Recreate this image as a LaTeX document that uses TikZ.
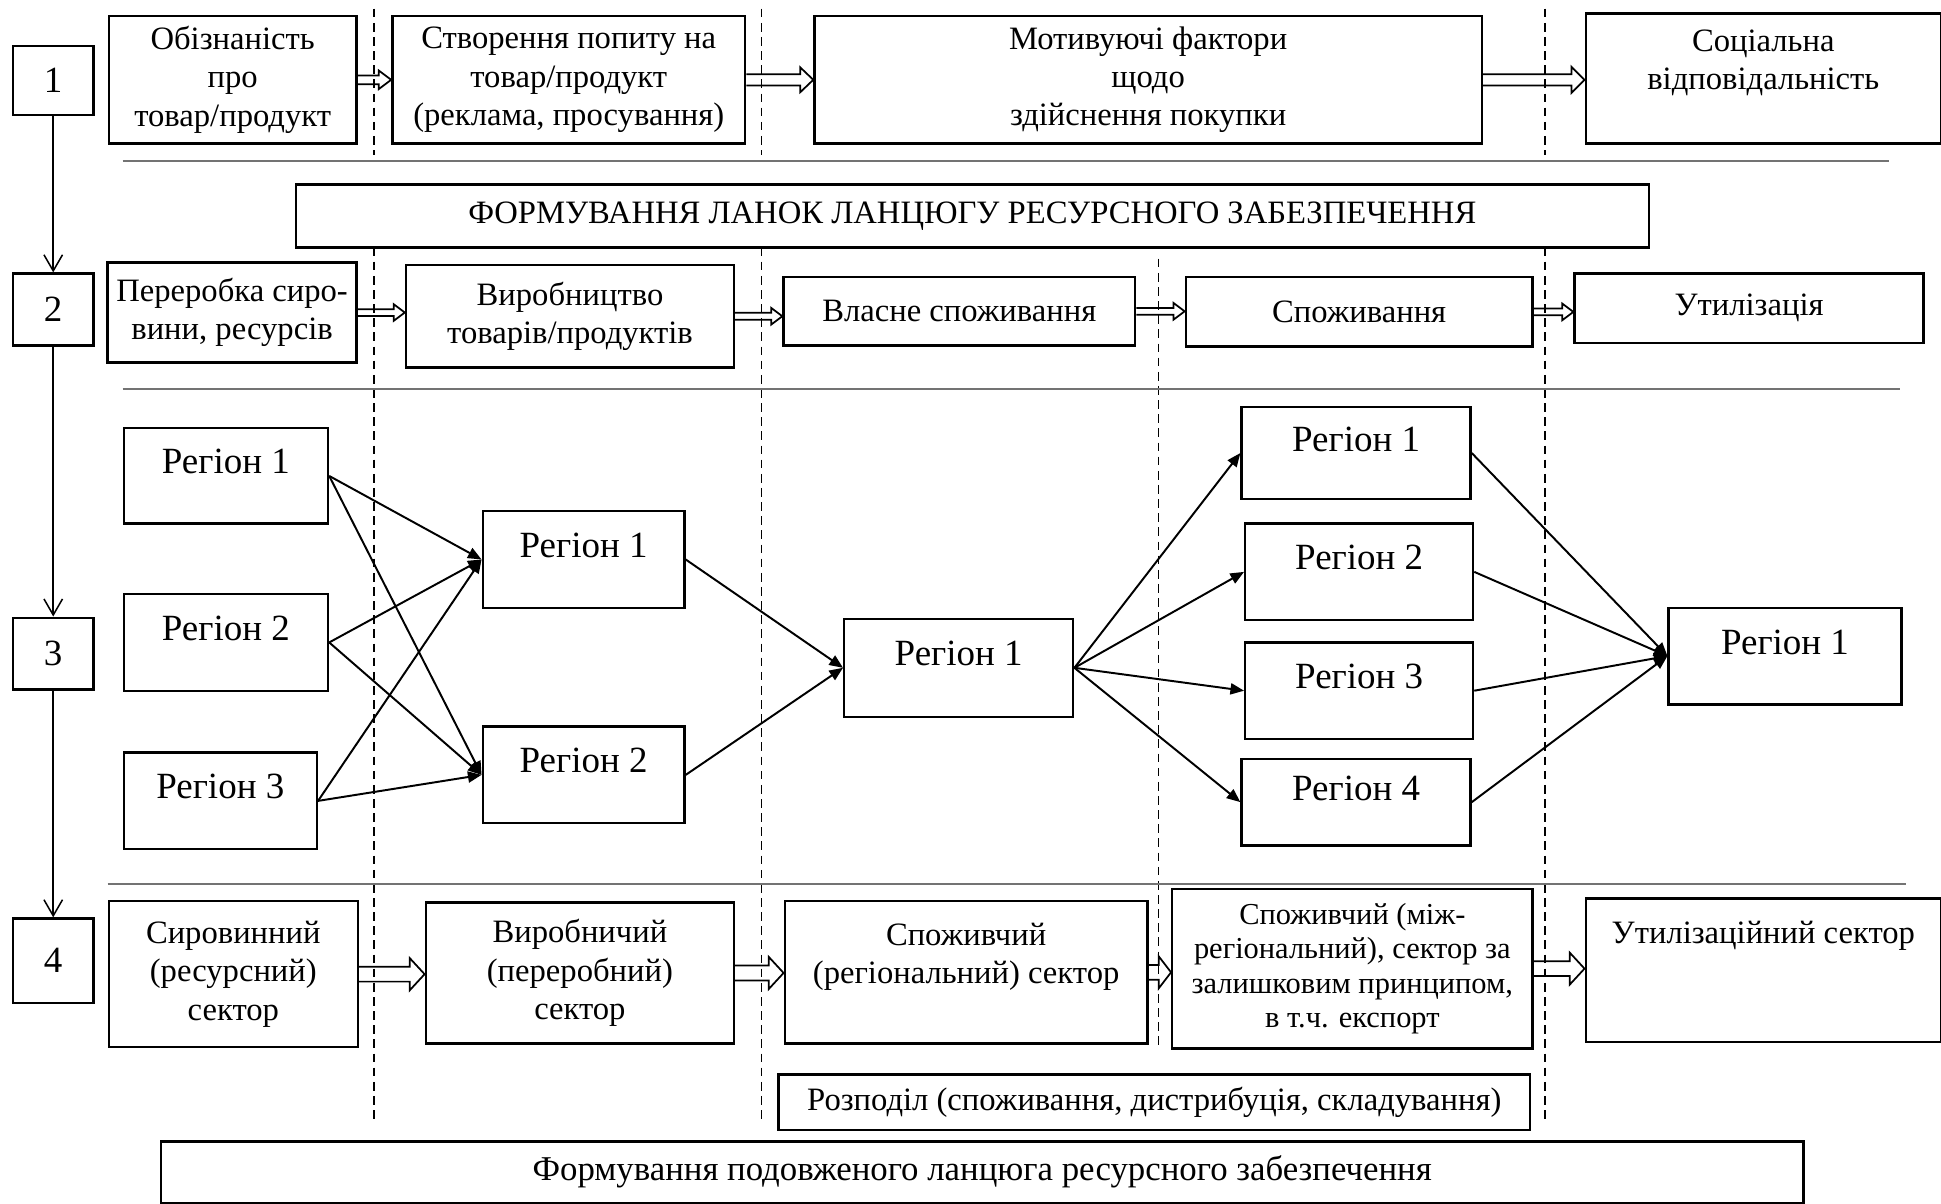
\documentclass[tikz,border=0pt]{standalone}
\usepackage{fontspec}
\setmainfont{Liberation Serif}
\usetikzlibrary{arrows.meta, calc}

% hollow block arrow between two boxes: from, to, shaft half, head half, head length
\newcommand{\fatarrow}[5]{%
  \draw[line width=0.8pt, line join=miter]
    let \p1=(#1.east), \p2=(#2.west) in
    (\x1,\y1+#3) -- (\x2-#5,\y1+#3) -- (\x2-#5,\y1+#4) -- (\x2,\y1)
    -- (\x2-#5,\y1-#4) -- (\x2-#5,\y1-#3) -- (\x1,\y1-#3);}

\begin{document}
\begin{tikzpicture}[x=0.2mm, y=-0.2mm, >={Triangle[length=2.2mm, width=1.8mm]},
  box/.style={draw, line width=1.1pt, align=center, inner sep=2pt, anchor=north west,
              font=\fontsize{15}{17.6}\selectfont},
  num/.style={draw, line width=1.1pt, minimum width=13mm, font=\fontsize{17}{20}\selectfont},
  region/.style={box, text depth=4.6mm, font=\fontsize{17}{20}\selectfont},
  sep/.style={line width=0.7pt, dash pattern=on 4pt off 2.5pt},
  rule/.style={line width=0.8pt, black!55},
  link/.style={->, line width=0.9pt},
  down/.style={-{Straight Barb[length=2.6mm, width=3mm]}, line width=0.7pt}]
  \useasboundingbox (0,0) rectangle (1568,972);

  % level numbers
  \node[num, minimum height=11.2mm] (n1) at (43,65) {1};
  \node[num, minimum height=11.6mm] (n2) at (43,250) {2};
  \node[num, minimum height=11.6mm] (n3) at (43,528) {3};
  \node[num, minimum height=13.6mm] (n4) at (43,776) {4};
  \draw[down] (n1.south) -- (n2.north);
  \draw[down] (n2.south) -- (n3.north);
  \draw[down] (n3.south) -- (n4.north);

  % separators
  \foreach \x in {302,615,1248} {
    \draw[sep] (\x,7) -- (\x,125);
    \draw[sep] (\x,200) -- (\x,906);
  }
  \draw[sep] (936,209) -- (936,844);
  \draw[rule] (99,130) -- (1526,130);
  \draw[rule] (99,314) -- (1535,314);
  \draw[rule] (87,714) -- (1540,714);

  % level 1
  \node[box, minimum width=40mm, minimum height=20.6mm] (a1) at (87,12) {Обізнаність\\про\\товар/продукт};
  \node[box, minimum width=57mm, minimum height=20.6mm] (a2) at (316,12) {Створення попиту на\\товар/продукт\\(реклама, просування)};
  \node[box, minimum width=107.8mm, minimum height=20.6mm] (a3) at (657,12) {Мотивуючі фактори\\щодо\\здійснення покупки};
  \node[box, minimum width=57.4mm, minimum height=21mm] (a4) at (1280,10) {Соціальна\\відповідальність\\~};
  \fatarrow{a1}{a2}{0.7mm}{1.5mm}{2mm}
  \fatarrow{a2}{a3}{0.9mm}{2mm}{2.1mm}
  \fatarrow{a3}{a4}{0.9mm}{2.1mm}{2.1mm}

  \node[box, minimum width=218.6mm, minimum height=10.2mm] (hdr) at (238,148) {ФОРМУВАННЯ ЛАНОК ЛАНЦЮГУ РЕСУРСНОГО ЗАБЕЗПЕЧЕННЯ};

  % level 2
  \node[box, minimum width=40.2mm, minimum height=16.2mm] (b1) at (86,211) {Переробка сиро-\\вини, ресурсів};
  \node[box, minimum width=53mm, minimum height=16.6mm] (b2) at (327,213) {Виробництво\\товарів/продуктів};
  \node[box, minimum width=56.8mm, minimum height=11mm] (b3) at (632,223) {Власне споживання};
  \node[box, minimum width=56mm, minimum height=11.2mm] (b4) at (957,223) {Споживання};
  \node[box, minimum width=56.4mm, minimum height=11.2mm] (b5) at (1271,220) {Утилізація};
  \fatarrow{b1}{b2}{0.55mm}{1.35mm}{1.8mm}
  \fatarrow{b2}{b3}{0.55mm}{1.35mm}{1.8mm}
  \fatarrow{b3}{b4}{0.55mm}{1.35mm}{1.8mm}
  \fatarrow{b4}{b5}{0.55mm}{1.35mm}{1.8mm}

  % level 3
  \node[region, minimum width=33mm, minimum height=15.4mm] (r11) at (99,345) {Регіон 1};
  \node[region, minimum width=33mm, minimum height=15.6mm] (r12) at (99,479) {Регіон 2};
  \node[region, minimum width=31.2mm, minimum height=15.6mm] (r13) at (99,607) {Регіон 3};
  \node[region, minimum width=32.6mm, minimum height=15.6mm] (r21) at (389,412) {Регіон 1};
  \node[region, minimum width=32.6mm, minimum height=15.6mm] (r22) at (389,586) {Регіон 2};
  \node[region, minimum width=37mm, minimum height=15.8mm] (r31) at (681,499) {Регіон 1};
  \node[region, minimum width=37mm, minimum height=14.8mm] (r41) at (1002,328) {Регіон 1};
  \node[region, minimum width=36.8mm, minimum height=15.6mm] (r42) at (1005,422) {Регіон 2};
  \node[region, minimum width=36.8mm, minimum height=15.6mm] (r43) at (1005,518) {Регіон 3};
  \node[region, minimum width=37mm, minimum height=14mm] (r44) at (1002,612) {Регіон 4};
  \node[region, minimum width=37.6mm, minimum height=15.6mm] (r51) at (1347,490) {Регіон 1};
  \foreach \s in {r11,r12,r13}
    \foreach \t in {r21,r22}
      \draw[link] (\s.east) -- (\t.west);
  \draw[link] (r21.east) -- (r31.west);
  \draw[link] (r22.east) -- (r31.west);
  \foreach \t in {r41,r42,r43,r44} {
    \draw[link] (r31.east) -- (\t.west);
    \draw[link] (\t.east) -- (r51.west);
  }

  % level 4
  \node[box, minimum width=40.2mm, minimum height=23.6mm] (c1) at (87,727) {Сировинний\\(ресурсний)\\сектор};
  \node[box, minimum width=49.8mm, minimum height=22.8mm] (c2) at (343,728) {Виробничий\\(переробний)\\сектор};
  \node[box, minimum width=58.6mm, minimum height=23mm] (c3) at (633,727) {Споживчий\\(регіональний) сектор\\~};
  \node[box, minimum width=58.2mm, minimum height=25.8mm, font=\fontsize{14}{15.8}\selectfont] (c4) at (946,717) {Споживчий (між-\\регіональний), сектор за\\залишковим принципом,\\в т.ч. експорт};
  \node[box, minimum width=57.4mm, minimum height=23.2mm] (c5) at (1280,725) {Утилізаційний сектор\\~\\~};
  \fatarrow{c1}{c2}{1.2mm}{2.6mm}{2.4mm}
  \fatarrow{c2}{c3}{1.2mm}{2.6mm}{2.4mm}
  \fatarrow{c3}{c4}{1.2mm}{2.6mm}{2mm}
  \fatarrow{c4}{c5}{1.2mm}{2.6mm}{2.4mm}

  \node[box, minimum width=121.4mm, minimum height=9mm] (distr) at (628,867) {Розподіл (споживання, дистрибуція, складування)};
  \node[box, minimum width=265.4mm, minimum height=10mm, font=\fontsize{16}{18}\selectfont] (chain) at (129,921) {Формування подовженого ланцюга ресурсного забезпечення};
\end{tikzpicture}
\end{document}
